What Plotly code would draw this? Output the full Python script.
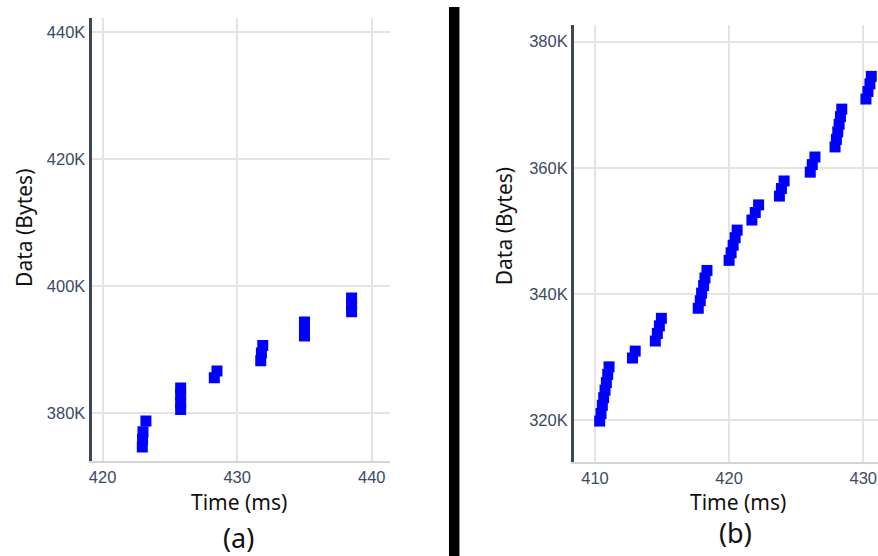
import plotly.graph_objects as go

# ---- data: panel (a) ----
a_time = [422.95, 422.97, 423.0, 423.22,
          425.8, 425.8, 425.8, 425.8,
          428.3, 428.5,
          431.75, 431.8, 431.9,
          435.0, 435.0, 435.0,
          438.5, 438.5, 438.5]
a_bytes = [374600, 375800, 377000, 378700,
           380500, 381600, 382800, 383900,
           385500, 386600,
           388200, 389400, 390600,
           392100, 393200, 394300,
           395900, 397000, 398100]

# ---- data: panel (b) ----
b_time = [410.35, 410.45, 410.55, 410.65, 410.75, 410.85, 410.95, 411.05,
          412.8, 413.0,
          414.5, 414.65, 414.8, 414.95,
          417.7, 417.85, 417.95, 418.1, 418.2, 418.35,
          420.0, 420.15, 420.3, 420.45, 420.6,
          421.7, 421.95, 422.2,
          423.75, 423.9, 424.1,
          426.05, 426.2, 426.4,
          427.9, 428.0, 428.1, 428.2, 428.3, 428.4,
          430.2, 430.35, 430.5, 430.6]
b_bytes = [319800, 321000, 322300, 323500, 324700, 325900, 327200, 328400,
           329800, 330900,
           332500, 333700, 334900, 336100,
           337700, 338900, 340100, 341300, 342500, 343700,
           345300, 346500, 347700, 348900, 350100,
           351700, 352900, 354100,
           355500, 356700, 357900,
           359300, 360500, 361700,
           363300, 364500, 365700, 366900, 368100, 369300,
           370900, 372100, 373300, 374500]

a_xticks = [420, 430, 440]
a_yticks = [380000, 400000, 420000, 440000]
a_yticktext = ["380K", "400K", "420K", "440K"]
b_xticks = [410, 420, 430]
b_yticks = [320000, 340000, 360000, 380000]
b_yticktext = ["320K", "340K", "360K", "380K"]

W, H = 878, 556
def px(x):
    return x / W
def py(y):
    return 1 - y / H

marker = dict(symbol="square", size=11, color="#0000ff")

fig = go.Figure()
fig.add_trace(go.Scatter(x=a_time, y=a_bytes, mode="markers", marker=marker,
                         xaxis="x", yaxis="y", showlegend=False))
fig.add_trace(go.Scatter(x=b_time, y=b_bytes, mode="markers", marker=marker,
                         xaxis="x2", yaxis="y2", showlegend=False))

tickfont = dict(family="Liberation Sans, Arial", size=16.5, color="#3a4a63")
grid = "#e3e3e3"

fig.update_layout(
    width=W, height=H,
    margin=dict(l=0, r=0, t=0, b=0),
    paper_bgcolor="white", plot_bgcolor="white",
    xaxis=dict(domain=[px(89), px(388)], range=[419.19, 441.33], anchor="y",
               tickvals=a_xticks, ticks="", showgrid=True, gridcolor=grid, gridwidth=1.5,
               showline=True, linecolor="#d4d4d4", linewidth=1.5, zeroline=False,
               tickfont=tickfont),
    yaxis=dict(domain=[py(461), py(18)], range=[372400, 442200], anchor="x",
               tickvals=a_yticks, ticktext=a_yticktext, ticks="", showgrid=True,
               gridcolor=grid, gridwidth=1.5, showline=True, linecolor="#3b4656",
               linewidth=3, zeroline=False, tickfont=tickfont),
    xaxis2=dict(domain=[px(573), 1.0], range=[408.44, 431.1], anchor="y2",
                tickvals=b_xticks, ticks="", showgrid=True, gridcolor=grid, gridwidth=1.5,
                showline=True, linecolor="#d4d4d4", linewidth=1.5, zeroline=False,
                tickfont=tickfont),
    yaxis2=dict(domain=[py(462), py(25)], range=[313300, 382650], anchor="x2",
                tickvals=b_yticks, ticktext=b_yticktext, ticks="", showgrid=True,
                gridcolor=grid, gridwidth=1.5, showline=True, linecolor="#3b4656",
                linewidth=3, zeroline=False, tickfont=tickfont),
)

titlefont = dict(family="Noto Sans, Open Sans", size=21, color="#111111")
labelfont = dict(family="Noto Sans, Open Sans", size=27, color="#111111")

annotations = [
    dict(text="Time (ms)", x=px(237), y=py(502), font=titlefont),
    dict(text="Time (ms)", x=px(738), y=py(502), font=titlefont),
    dict(text="Data (Bytes)", x=px(21), y=py(228), font=titlefont, textangle=-90),
    dict(text="Data (Bytes)", x=px(503), y=py(226), font=titlefont, textangle=-90),
    dict(text="(a)", x=px(236), y=py(537), font=labelfont),
    dict(text="(b)", x=px(735), y=py(532), font=labelfont),
]
for a in annotations:
    a.update(xref="paper", yref="paper", showarrow=False, xanchor="center", yanchor="middle")
fig.update_layout(annotations=annotations)

fig.add_shape(type="rect", xref="paper", yref="paper",
              x0=px(447.5), x1=px(458), y0=0, y1=py(7),
              fillcolor="black", line=dict(width=0))

fig.write_html("out.html")
